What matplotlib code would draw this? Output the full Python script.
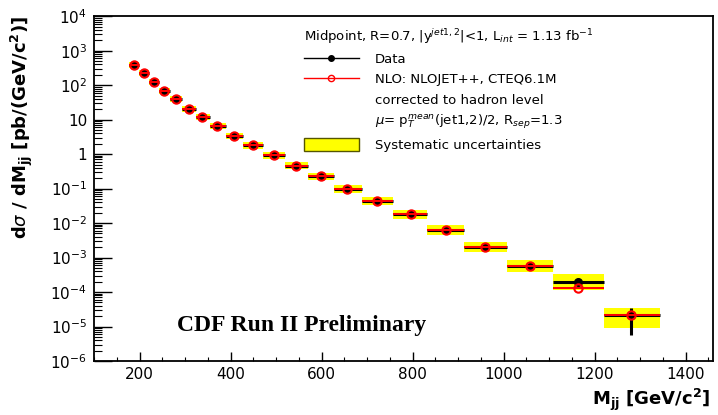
import numpy as np
import matplotlib
matplotlib.use('Agg')
import matplotlib.pyplot as plt
from matplotlib.lines import Line2D
from matplotlib.patches import Patch
from matplotlib.ticker import FixedLocator, MultipleLocator, LogLocator, NullFormatter

# dijet mass bins (GeV/c^2)
mjj = np.array([187, 209, 231, 253, 279, 308, 338, 371, 407, 450, 495,
                543, 598, 656, 722, 796, 873, 960, 1058, 1164, 1279])
edges = np.array([176, 198, 220, 242, 266, 293, 323, 354, 389, 428, 472,
                  519, 570, 627, 689, 756, 832, 914, 1008, 1108, 1220, 1343])

# cross sections, pb/(GeV/c^2)
data = np.array([380, 224, 125, 68, 38.5, 21, 12, 6.5, 3.4, 1.79, 0.93,
                 0.46, 0.226, 0.099, 0.0434, 0.0179, 0.0063, 0.00206,
                 5.8e-4, 1.99e-4, 2.15e-5])
nlo = np.array([380, 224, 125, 68, 38.5, 21, 12, 6.5, 3.4, 1.79, 0.93,
                0.46, 0.226, 0.099, 0.0434, 0.0179, 0.0063, 0.00206,
                5.8e-4, 1.28e-4, 2.1e-5])

# relative errors
stat_up = np.array([0.01]*12 + [0.02, 0.02, 0.03, 0.04, 0.05, 0.07, 0.1, 0.15, 0.58])
stat_dn = np.array([0.01]*12 + [0.02, 0.02, 0.03, 0.04, 0.05, 0.07, 0.1, 0.15, 0.74])
sys_up = np.array([0.22, 0.22, 0.22, 0.22, 0.22, 0.22, 0.23, 0.23, 0.24, 0.25, 0.26,
                   0.27, 0.28, 0.30, 0.32, 0.33, 0.40, 0.40, 0.49, 0.67, 0.56])
sys_dn = np.array([0.18, 0.18, 0.18, 0.18, 0.18, 0.18, 0.19, 0.19, 0.19, 0.20, 0.21,
                   0.21, 0.22, 0.23, 0.24, 0.25, 0.28, 0.28, 0.33, 0.42, 0.59])

ytick_vals = [1e-6, 1e-5, 1e-4, 1e-3, 1e-2, 1e-1, 1, 10, 1e2, 1e3, 1e4]
ytick_labels = ['10$^{-6}$', '10$^{-5}$', '10$^{-4}$', '10$^{-3}$', '10$^{-2}$',
                '10$^{-1}$', '1', '10', '10$^{2}$', '10$^{3}$', '10$^{4}$']

plt.rcParams['font.family'] = ['DejaVu Sans']
plt.rcParams['mathtext.fontset'] = 'dejavusans'

fig = plt.figure(figsize=(7.18, 4.15), dpi=100)
ax = fig.add_axes([0.131, 0.130, 0.862, 0.831])

# systematic bands
lo = data * (1 - sys_dn)
hi = data * (1 + sys_up)
ax.bar(edges[:-1], hi - lo, width=np.diff(edges), bottom=lo, align='edge',
       color='#ffff00', linewidth=0, zorder=1)

xerr = [mjj - edges[:-1], edges[1:] - mjj]
ax.errorbar(mjj, data, xerr=xerr, yerr=[data * stat_dn, data * stat_up],
            fmt='o', color='black', ms=5.5, lw=2.2, capsize=0, zorder=2)
ax.errorbar(mjj, nlo, xerr=xerr, fmt='o', color='red', mfc='none', mec='red',
            mew=1.5, ms=6, lw=1.4, capsize=0, zorder=3)

ax.set_yscale('log')
ax.set_ylim(1e-6, 1e4)
ax.set_xlim(100, 1460)
ax.yaxis.set_major_locator(FixedLocator(ytick_vals))
ax.set_yticklabels(ytick_labels)
ax.yaxis.set_minor_locator(LogLocator(base=10, subs=np.arange(2, 10), numticks=100))
ax.yaxis.set_minor_formatter(NullFormatter())
ax.xaxis.set_major_locator(MultipleLocator(200))
ax.xaxis.set_minor_locator(MultipleLocator(50))

ax.tick_params(axis='y', which='major', direction='in', length=13, width=1, labelsize=11, pad=5)
ax.tick_params(axis='y', which='minor', direction='in', length=6, width=0.8)
ax.tick_params(axis='x', which='major', direction='in', length=6.5, width=1, labelsize=11, pad=4)
ax.tick_params(axis='x', which='minor', direction='in', length=3.2, width=0.8)
for s in ax.spines.values():
    s.set_linewidth(1.3)

ax.set_xlabel(r'M$_{\mathbf{jj}}$ [GeV/c$^{\mathbf{2}}$]', fontsize=13,
              fontweight='bold', loc='right')
ax.xaxis.set_label_coords(0.995, -0.075)
ax.set_ylabel(r'd$\sigma$ / dM$_{\mathbf{jj}}$ [pb/(GeV/c$^{\mathbf{2}}$)]', fontsize=13,
              fontweight='bold', loc='top')
ax.yaxis.set_label_coords(-0.095, 1.0)

ax.text(0.336, 0.104, 'CDF Run II Preliminary', transform=ax.transAxes,
        ha='center', va='center', fontsize=17, fontweight='bold',
        family='Liberation Serif')

handles = [
    Line2D([], [], color='black', lw=1, marker='o', ms=4),
    Line2D([], [], color='red', lw=1, marker='o', ms=4.5, mfc='none', mec='red'),
    Line2D([], [], color='none'),
    Line2D([], [], color='none'),
    Patch(facecolor='#ffff00', edgecolor='#555500', lw=1),
]
labels = [
    'Data',
    'NLO: NLOJET++, CTEQ6.1M',
    'corrected to hadron level',
    r'$\mu$= p$_T^{mean}$(jet1,2)/2, R$_{sep}$=1.3',
    'Systematic uncertainties',
]
leg = ax.legend(handles, labels, loc='upper left', bbox_to_anchor=(0.33, 0.985),
                frameon=False, fontsize=9.5, handlelength=4.2, handleheight=1.1,
                handletextpad=1.2, labelspacing=0.5, borderaxespad=0,
                title=r'Midpoint, R=0.7, |y$^{jet1,2}$|<1, L$_{int}$ = 1.13 fb$^{-1}$',
                title_fontsize=9.5, alignment='left')

fig.savefig('out.png', dpi=100)
